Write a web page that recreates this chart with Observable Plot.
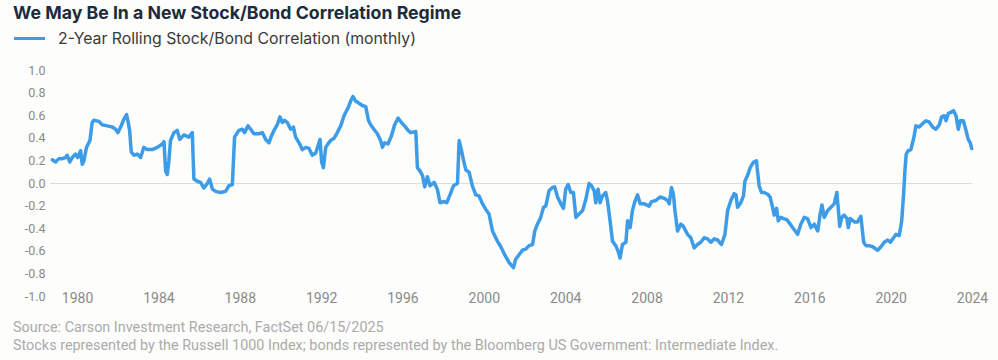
<!DOCTYPE html>
<html>
<head>
<meta charset="utf-8">
<script src="https://cdn.jsdelivr.net/npm/d3@7"></script>
<script src="https://cdn.jsdelivr.net/npm/@observablehq/plot@0.6"></script>
<style>
  html, body { margin: 0; padding: 0; background: #fdfdfb; }
  body { width: 998px; height: 360px; overflow: hidden; position: relative; }
  #title { position: absolute; left: 13px; top: 2px; font: 700 17.7px Inter, "Noto Sans", sans-serif; color: #1c2b3b; white-space: nowrap; }
  #legend { position: absolute; left: 14px; top: 29px; font: 400 15.8px Inter, "Noto Sans", sans-serif; color: #3a3a3a; white-space: nowrap; display: flex; align-items: center; }
  #legend .sw { display: inline-block; width: 31px; height: 3px; background: #3d9ce8; margin-right: 13px; }
  #chart { position: absolute; left: 0; top: 55px; }
  #caption { position: absolute; left: 13px; top: 319px; font: 400 14.4px Roboto, sans-serif; color: #ababab; line-height: 18px; white-space: nowrap; }
</style>
</head>
<body>
<div id="title"></div>
<div id="legend"><span class="sw"></span><span id="legtext"></span></div>
<div id="chart"></div>
<div id="caption"></div>
<script>
const titleText = "We May Be In a New Stock/Bond Correlation Regime";
const seriesName = "2-Year Rolling Stock/Bond Correlation (monthly)";
const captionLines = [
  "Source: Carson Investment Research, FactSet 06/15/2025",
  "Stocks represented by the Russell 1000 Index; bonds represented by the Bloomberg US Government: Intermediate Index."
];
const xTicks = [1980, 1984, 1988, 1992, 1996, 2000, 2004, 2008, 2012, 2016, 2020, 2024];
const yTicks = [-1.0, -0.8, -0.6, -0.4, -0.2, 0.0, 0.2, 0.4, 0.6, 0.8, 1.0];

const years = [
  1978.76,1978.92,1979.08,1979.25,1979.41,1979.49,1979.62,1979.74,1979.90,1980.01,
  1980.15,1980.23,1980.31,1980.44,1980.61,1980.72,1980.80,1981.05,1981.21,1981.46,
  1981.71,1981.87,1981.98,1982.12,1982.28,1982.41,1982.49,1982.56,1982.64,1982.77,
  1982.94,1983.10,1983.26,1983.43,1983.67,1983.92,1984.17,1984.25,1984.33,1984.41,
  1984.49,1984.57,1984.74,1984.90,1985.03,1985.23,1985.47,1985.64,1985.72,1985.89,
  1986.05,1986.21,1986.38,1986.49,1986.63,1986.79,1987.03,1987.28,1987.44,1987.61,
  1987.72,1987.93,1988.10,1988.21,1988.38,1988.51,1988.67,1988.92,1989.09,1989.25,
  1989.41,1989.53,1989.66,1989.82,1989.95,1990.07,1990.18,1990.31,1990.48,1990.61,
  1990.72,1990.89,1991.05,1991.22,1991.38,1991.54,1991.71,1991.92,1992.00,1992.09,
  1992.20,1992.31,1992.44,1992.61,1992.77,1992.94,1993.10,1993.30,1993.43,1993.54,
  1993.67,1993.84,1994.00,1994.17,1994.30,1994.41,1994.57,1994.74,1994.90,1994.99,
  1995.10,1995.26,1995.43,1995.59,1995.76,1995.92,1996.08,1996.25,1996.38,1996.63,
  1996.71,1996.84,1996.96,1997.07,1997.20,1997.33,1997.53,1997.69,1997.82,1998.02,
  1998.15,1998.31,1998.48,1998.68,1998.76,1998.87,1998.97,1999.09,1999.25,1999.41,
  1999.58,1999.74,1999.91,2000.07,2000.23,2000.40,2000.64,2000.81,2000.97,2001.22,
  2001.43,2001.54,2001.71,2001.87,2002.04,2002.20,2002.37,2002.48,2002.61,2002.77,
  2002.91,2003.02,2003.18,2003.35,2003.46,2003.60,2003.76,2003.89,2004.00,2004.12,
  2004.25,2004.38,2004.50,2004.66,2004.83,2004.99,2005.15,2005.27,2005.40,2005.48,
  2005.59,2005.69,2005.81,2005.97,2006.06,2006.18,2006.30,2006.46,2006.58,2006.67,
  2006.79,2006.96,2007.04,2007.17,2007.28,2007.40,2007.53,2007.66,2007.86,2008.10,
  2008.22,2008.43,2008.64,2008.84,2009.01,2009.09,2009.20,2009.30,2009.37,2009.50,
  2009.66,2009.79,2009.99,2010.15,2010.32,2010.48,2010.64,2010.81,2010.97,2011.14,
  2011.30,2011.47,2011.66,2011.83,2011.96,2012.12,2012.28,2012.37,2012.45,2012.61,
  2012.74,2012.81,2012.94,2013.07,2013.24,2013.38,2013.43,2013.51,2013.63,2013.76,
  2013.93,2014.05,2014.17,2014.25,2014.37,2014.45,2014.58,2014.71,2014.87,2015.04,
  2015.20,2015.40,2015.56,2015.73,2015.89,2016.06,2016.22,2016.39,2016.51,2016.60,
  2016.71,2016.88,2017.04,2017.20,2017.33,2017.40,2017.47,2017.57,2017.69,2017.83,
  2017.89,2017.99,2018.19,2018.35,2018.51,2018.65,2018.76,2018.92,2019.09,2019.34,
  2019.50,2019.66,2019.83,2019.96,2020.12,2020.24,2020.40,2020.52,2020.61,2020.68,
  2020.74,2020.84,2020.97,2021.11,2021.22,2021.38,2021.55,2021.71,2021.87,2022.04,
  2022.20,2022.37,2022.48,2022.61,2022.70,2022.81,2022.94,2023.06,2023.19,2023.30,
  2023.40,2023.55,2023.68,2023.79,2023.89,2023.96
];
const correlation = [
  0.21,0.19,0.22,0.22,0.23,0.25,0.19,0.23,0.26,0.23,
  0.29,0.17,0.20,0.32,0.38,0.54,0.56,0.55,0.52,0.51,
  0.50,0.48,0.45,0.50,0.57,0.61,0.54,0.47,0.28,0.25,
  0.26,0.23,0.32,0.30,0.30,0.32,0.35,0.37,0.11,0.08,
  0.20,0.38,0.45,0.47,0.39,0.43,0.41,0.45,0.04,0.02,
  0.01,-0.04,0.00,0.04,-0.05,-0.07,-0.08,-0.07,-0.02,-0.01,
  0.41,0.47,0.48,0.45,0.51,0.48,0.44,0.44,0.45,0.39,
  0.36,0.42,0.47,0.52,0.59,0.54,0.56,0.54,0.48,0.50,
  0.41,0.36,0.30,0.32,0.31,0.25,0.27,0.39,0.19,0.14,
  0.32,0.35,0.38,0.40,0.45,0.51,0.60,0.67,0.73,0.77,
  0.73,0.71,0.69,0.68,0.56,0.52,0.48,0.44,0.38,0.32,
  0.36,0.35,0.42,0.52,0.58,0.54,0.51,0.47,0.45,0.46,
  0.14,0.11,0.07,-0.03,0.06,-0.02,0.01,-0.05,-0.17,-0.16,
  -0.17,-0.10,-0.02,0.00,0.38,0.30,0.21,0.12,0.10,-0.02,
  -0.10,-0.11,-0.18,-0.23,-0.27,-0.42,-0.51,-0.56,-0.62,-0.70,
  -0.745,-0.67,-0.63,-0.59,-0.58,-0.55,-0.54,-0.42,-0.36,-0.30,
  -0.21,-0.20,-0.065,-0.035,-0.03,-0.12,-0.18,-0.22,-0.05,-0.01,
  -0.08,-0.08,-0.30,-0.27,-0.24,-0.14,0.00,-0.02,-0.065,-0.17,
  -0.05,-0.17,-0.11,-0.08,-0.16,-0.33,-0.51,-0.55,-0.60,-0.66,
  -0.54,-0.52,-0.33,-0.39,-0.24,-0.16,-0.10,-0.18,-0.18,-0.20,
  -0.16,-0.15,-0.12,-0.13,-0.15,-0.18,-0.035,-0.10,-0.24,-0.42,
  -0.36,-0.38,-0.45,-0.48,-0.57,-0.54,-0.52,-0.48,-0.49,-0.52,
  -0.49,-0.50,-0.54,-0.45,-0.24,-0.15,-0.09,-0.10,-0.21,-0.17,
  -0.11,0.02,0.07,0.14,0.19,0.20,0.11,-0.02,-0.08,-0.08,
  -0.095,-0.12,-0.21,-0.28,-0.22,-0.33,-0.30,-0.31,-0.32,-0.36,
  -0.40,-0.45,-0.36,-0.30,-0.31,-0.39,-0.36,-0.42,-0.27,-0.19,
  -0.30,-0.24,-0.21,-0.18,-0.08,-0.22,-0.38,-0.30,-0.28,-0.31,
  -0.39,-0.31,-0.34,-0.34,-0.29,-0.52,-0.55,-0.55,-0.56,-0.59,
  -0.56,-0.52,-0.50,-0.52,-0.48,-0.45,-0.46,-0.33,-0.10,0.12,
  0.26,0.29,0.30,0.40,0.51,0.50,0.53,0.555,0.545,0.50,
  0.48,0.52,0.59,0.60,0.556,0.62,0.63,0.645,0.60,0.48,
  0.556,0.556,0.47,0.39,0.36,0.31
];

const data = years.map((t, i) => ({t, v: correlation[i]}));
const lineColor = "#3d9ce8";

document.getElementById("title").textContent = titleText;
document.getElementById("legtext").textContent = seriesName;
document.getElementById("caption").innerHTML = captionLines.map(s => `<div>${s}</div>`).join("");

const chart = Plot.plot({
  width: 998,
  height: 265,
  marginTop: 15,
  marginBottom: 24,
  marginLeft: 50,
  marginRight: 26,
  style: {background: "transparent", fontFamily: "Roboto, sans-serif"},
  x: {domain: [1978.67, 2024.0], axis: null},
  y: {domain: [-1, 1], axis: null},
  marks: [
    Plot.ruleY([0], {stroke: "#dcdcdc", strokeWidth: 1}),
    Plot.axisY(yTicks, {label: null, tickSize: 0, tickPadding: 5, tickFormat: d => d.toFixed(1), fill: "#8a8a8a", fontSize: 12.5}),
    Plot.axisX(xTicks, {label: null, tickSize: 0, tickPadding: -3, tickFormat: d => String(d), fill: "#8a8a8a", fontSize: 14}),
    Plot.line(data, {x: "t", y: "v", stroke: lineColor, strokeWidth: 3.5, strokeLinejoin: "round", strokeLinecap: "round"})
  ]
});
document.getElementById("chart").appendChild(chart);
</script>
</body>
</html>
